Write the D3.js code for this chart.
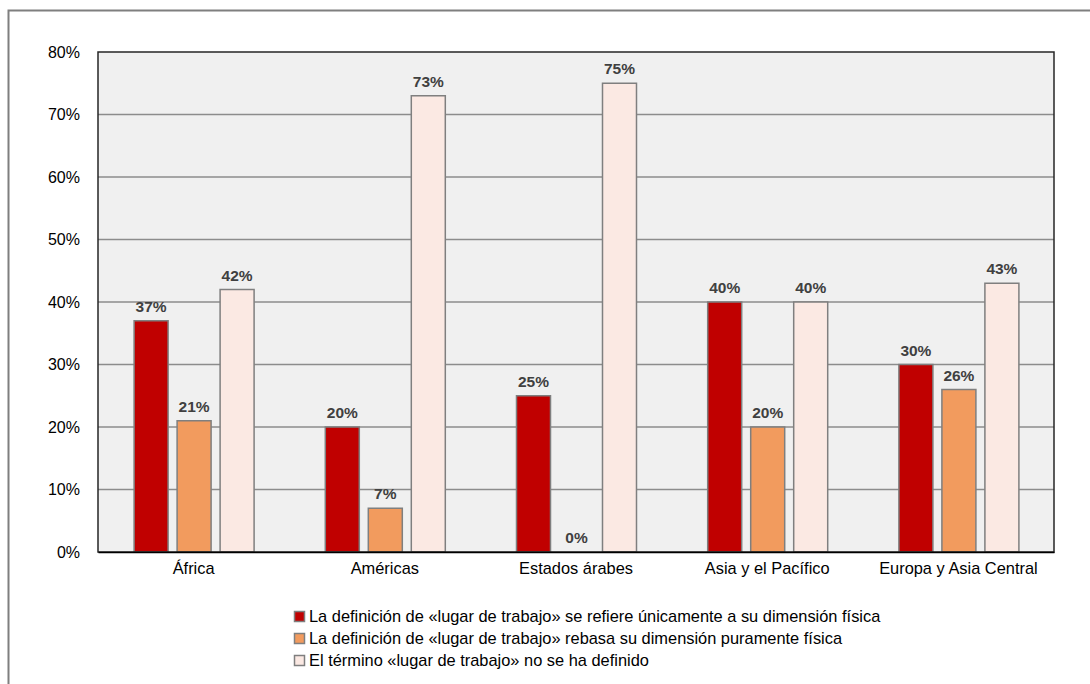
<!DOCTYPE html>
<html>
<head>
<meta charset="utf-8">
<script src="https://cdn.jsdelivr.net/npm/d3@7"></script>
<style>
  html, body { margin: 0; padding: 0; background: #ffffff; }
  svg { display: block; font-family: "Liberation Sans", Arial, sans-serif; }
</style>
</head>
<body>
<svg id="chart" width="1090" height="684"></svg>
<script>
// Regions on the horizontal axis
const regions = ["África", "Américas", "Estados árabes", "Asia y el Pacífico", "Europa y Asia Central"];

// Series names (legend order)
const seriesNames = [
  "La definición de «lugar de trabajo» se refiere únicamente a su dimensión física",
  "La definición de «lugar de trabajo» rebasa su dimensión puramente física",
  "El término «lugar de trabajo» no se ha definido"
];

// Percentages per region, one array per series
const fisica   = [37, 20, 25, 40, 30];
const rebasa   = [21, 7, 0, 20, 26];
const noDefin  = [42, 73, 75, 40, 43];

const yTicks = [0, 10, 20, 30, 40, 50, 60, 70, 80];

const seriesColors = ["#c00000", "#f29b5e", "#fbe9e3"];

const seriesValues = [fisica, rebasa, noDefin];

const svg = d3.select("#chart");

// Outer frame
svg.append("rect")
  .attr("x", 8.5).attr("y", 10.5)
  .attr("width", 1200).attr("height", 800)
  .attr("fill", "none").attr("stroke", "#7f7f7f").attr("stroke-width", 2);

const plot = { left: 98, top: 52, right: 1054, bottom: 552 };

const x0 = d3.scaleBand()
  .domain(regions)
  .range([plot.left, plot.right])
  .padding(0);

const groupWidth = 120;
const x1 = d3.scaleBand()
  .domain(d3.range(seriesNames.length))
  .range([(x0.bandwidth() - groupWidth) / 2 + 0.5, (x0.bandwidth() + groupWidth) / 2 + 0.5])
  .paddingInner(9 / 43)
  .paddingOuter(0);

const y = d3.scaleLinear()
  .domain([0, 80])
  .range([plot.bottom, plot.top]);

// Plot background
svg.append("rect")
  .attr("x", plot.left).attr("y", plot.top)
  .attr("width", plot.right - plot.left).attr("height", plot.bottom - plot.top)
  .attr("fill", "#f0f0f0");

// Horizontal gridlines
svg.append("g")
  .selectAll("line")
  .data(yTicks.filter(t => t > 0 && t < 80))
  .join("line")
  .attr("x1", plot.left).attr("x2", plot.right)
  .attr("y1", d => y(d)).attr("y2", d => y(d))
  .attr("stroke", "#8c8c8c").attr("stroke-width", 1.5);

// Bars
const groups = svg.append("g")
  .selectAll("g")
  .data(regions)
  .join("g")
  .attr("transform", d => `translate(${x0(d)},0)`);

groups.selectAll("rect")
  .data((d, i) => seriesValues.map((vals, s) => ({ s, v: vals[i] })))
  .join("rect")
  .filter(d => d.v > 0)
  .attr("x", d => x1(d.s))
  .attr("y", d => y(d.v))
  .attr("width", x1.bandwidth())
  .attr("height", d => y(0) - y(d.v))
  .attr("fill", d => seriesColors[d.s])
  .attr("stroke", "#7f7f7f")
  .attr("stroke-width", 1.5);

// Value labels
groups.selectAll("text")
  .data((d, i) => seriesValues.map((vals, s) => ({ s, v: vals[i] })))
  .join("text")
  .attr("x", d => x1(d.s) + x1.bandwidth() / 2)
  .attr("y", d => y(d.v) - 9)
  .attr("text-anchor", "middle")
  .attr("font-size", 15.5)
  .attr("font-weight", "bold")
  .attr("fill", "#404040")
  .text(d => d.v + "%");

// Plot frame
svg.append("rect")
  .attr("x", plot.left).attr("y", plot.top)
  .attr("width", plot.right - plot.left).attr("height", plot.bottom - plot.top)
  .attr("fill", "none").attr("stroke", "#262626").attr("stroke-width", 1.5);

// Y axis
const yAxis = d3.axisLeft(y)
  .tickValues(yTicks)
  .tickFormat(d => d + "%")
  .tickSize(0)
  .tickPadding(18);

svg.append("g")
  .attr("transform", `translate(${plot.left},0)`)
  .call(yAxis)
  .call(g => g.select(".domain").remove())
  .call(g => g.selectAll("text")
    .attr("font-family", "Liberation Sans, Arial, sans-serif")
    .attr("font-size", 16)
    .attr("fill", "#000"));

// X axis
const xAxis = d3.axisBottom(x0).tickSize(0).tickPadding(10);
svg.append("g")
  .attr("transform", `translate(0,${plot.bottom})`)
  .call(xAxis)
  .call(g => g.select(".domain").attr("stroke", "#000").attr("stroke-width", 1.5))
  .call(g => g.selectAll("text")
    .attr("font-family", "Liberation Sans, Arial, sans-serif")
    .attr("font-size", 16.4)
    .attr("fill", "#000"));

// Legend
const legend = svg.append("g").attr("transform", "translate(294,611)");
const rowH = 22;
const items = legend.selectAll("g")
  .data(seriesNames)
  .join("g")
  .attr("transform", (d, i) => `translate(0,${i * rowH})`);

items.append("rect")
  .attr("x", 0.5).attr("y", 0.5)
  .attr("width", 10).attr("height", 10)
  .attr("fill", (d, i) => seriesColors[i])
  .attr("stroke", "#7f7f7f").attr("stroke-width", 1.5);

items.append("text")
  .attr("x", 15).attr("y", 11)
  .attr("font-size", 16.4)
  .attr("fill", "#000")
  .text(d => d);
</script>
</body>
</html>
